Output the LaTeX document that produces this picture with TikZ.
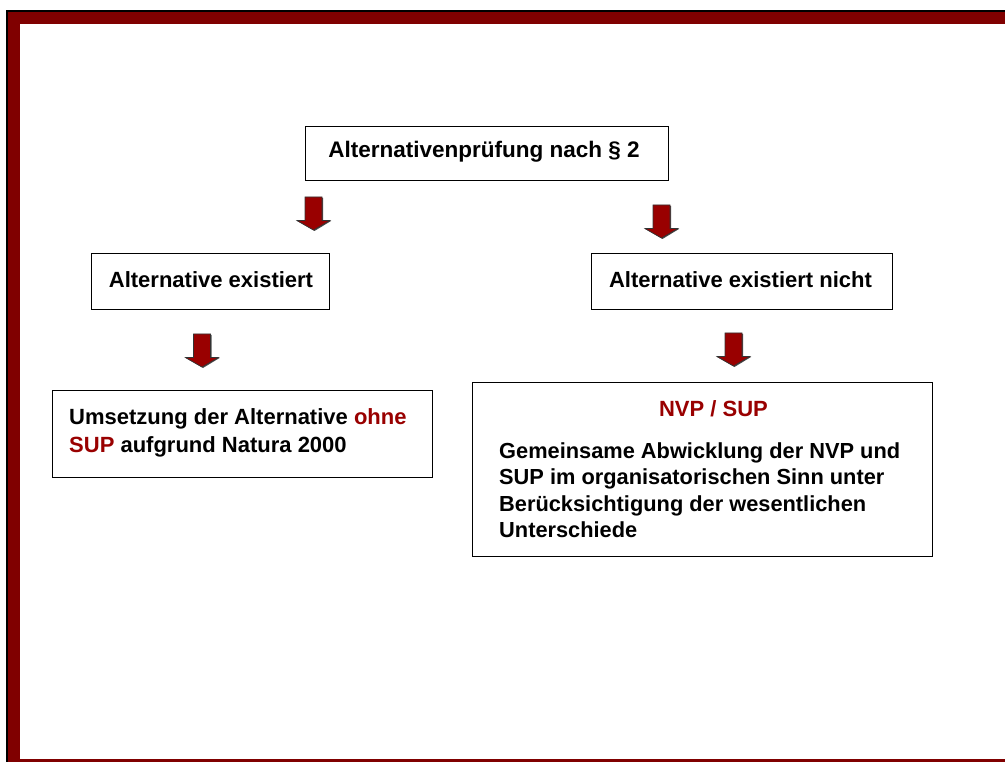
\documentclass[tikz,border=0pt]{standalone}
\usepackage{fontspec}
\setmainfont{Liberation Sans}
\definecolor{framered}{HTML}{800000}
\definecolor{arrowred}{HTML}{990000}
\definecolor{textred}{HTML}{990000}
\tikzset{
  box/.style={draw=black, line width=1pt, fill=white, inner sep=0pt},
  txt/.style={inner sep=0pt, anchor=base west, font=\fontsize{22}{28}\selectfont\bfseries, align=left},
  txtc/.style={inner sep=0pt, anchor=base, font=\fontsize{22}{26}\selectfont\bfseries},
}
\newcommand{\blockarrowat}[1]{%
  \fill[black!70] ([shift={(-7.5,1)}]#1) -- ++(17,0) -- ++(0,23) -- ++(8,0) -- ++(-16.5,10) -- ++(-17.5,-10) -- ++(8,0) -- cycle;
  \filldraw[fill=arrowred, draw=black!80, line width=0.6pt] ([shift={(-8.5,0)}]#1) -- ++(17,0) -- ++(0,23.5) -- ++(8,0) -- ++(-16.5,9.5) -- ++(-16.5,-9.5) -- ++(8,0) -- cycle;
}
\begin{document}
\begin{tikzpicture}[x=1pt,y=-1pt]
\useasboundingbox (0,0) rectangle (1005,762);
\fill[white] (0,0) rectangle (1005,762);
% frame
\fill[black] (6,10) rectangle (1005,12);
\fill[black] (6,10) rectangle (8,762);
\fill[framered] (8,12) rectangle (1005,24);
\fill[framered] (8,12) rectangle (20,762);
\fill[framered] (8,759) rectangle (1005,762);
% boxes
\node[box, minimum width=363pt, minimum height=54pt] (top) at (486.5,154) {};
\node[box, minimum width=238pt, minimum height=56pt] (alt) at (210,282) {};
\node[box, minimum width=301pt, minimum height=56pt] (nalt) at (741.5,282) {};
\node[box, minimum width=380pt, minimum height=87pt] (left) at (242,433.5) {};
\node[box, minimum width=460pt, minimum height=174pt] (right) at (702,469) {};
% texts
\node[txtc, font=\fontsize{22.5}{26}\selectfont\bfseries] (ttop) at (484,158) {Alternativenprüfung nach § 2};
\node[txtc] (talt) at (211,288) {Alternative existiert};
\node[txtc] (tnalt) at (740.5,288) {Alternative existiert nicht};
\node[txt] (tleft) at (69,452) {Umsetzung der Alternative \textcolor{textred}{ohne}\\\textcolor{textred}{SUP} aufgrund Natura 2000};
\node[txtc, text=textred] (tnvp) at (713.5,417) {NVP / SUP};
\node[txt, font=\fontsize{21.8}{26.5}\selectfont\bfseries] (tright) at (499,537.5) {Gemeinsame Abwicklung der NVP und\\SUP im organisatorischen Sinn unter\\Berücksichtigung der wesentlichen\\Unterschiede};
% arrows
\coordinate (a1) at (313.5,197);
\coordinate (a2) at (661.5,205);
\coordinate (a3) at (202,334);
\coordinate (a4) at (733.5,333);
\blockarrowat{a1}
\blockarrowat{a2}
\blockarrowat{a3}
\blockarrowat{a4}
\end{tikzpicture}
\end{document}
